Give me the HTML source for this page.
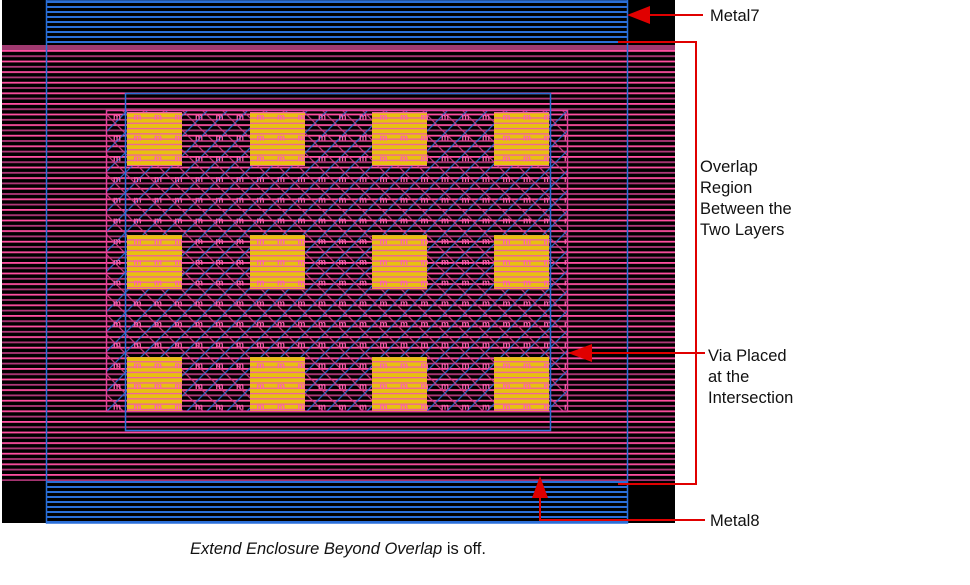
<!DOCTYPE html>
<html><head><style>
body{margin:0;background:#fff;width:970px;height:580px;overflow:hidden;font-family:"Liberation Sans",sans-serif;}
</style></head><body>
<svg width="970" height="580" xmlns="http://www.w3.org/2000/svg">
<defs>
<pattern id="blu" width="10" height="5" patternUnits="userSpaceOnUse" y="1">
<rect width="10" height="5" fill="#000"/><rect y="0" width="10" height="2" fill="#2a6fd8"/>
</pattern>
<pattern id="mag" width="10" height="10.6" patternUnits="userSpaceOnUse" y="50">
<rect width="10" height="10.6" fill="#000"/><rect y="0" width="10" height="1.8" fill="#ff4fa0"/><rect y="5.3" width="10" height="1.8" fill="#b03878"/>
</pattern>
<pattern id="hatch" width="20" height="20" patternUnits="userSpaceOnUse" x="125" y="113">
<path d="M0 20L20 0" stroke="#2a6fd8" stroke-width="1.3"/>
<path d="M0 0L20 20" stroke="#d03c88" stroke-width="1.3"/>
</pattern>
<pattern id="mm" width="20.5" height="20.7" patternUnits="userSpaceOnUse" x="113" y="113">
<text x="0" y="7" font-size="9" fill="#ff5fb0" font-family="Liberation Sans" font-weight="bold">m</text>
</pattern>
<pattern id="yel" width="10" height="5.3" patternUnits="userSpaceOnUse" y="112">
<rect width="10" height="5.3" fill="#e8c010"/><rect y="0" width="10" height="1.3" fill="#f060a0"/>
</pattern>
</defs>
<rect x="2" y="0" width="673" height="523" fill="#000"/>
<rect x="46" y="0" width="582" height="523" fill="url(#blu)"/>
<rect x="2" y="45" width="673" height="436" fill="url(#mag)"/>
<rect x="2" y="45" width="673" height="5" fill="#a03a70"/>
<rect x="46.5" y="0" width="581" height="523" fill="none" stroke="#2a6fd8" stroke-width="1.5"/>
<rect x="106" y="110" width="462" height="302" fill="url(#hatch)" opacity="0.9"/>
<g fill="url(#yel)">
<rect x="127" y="112" width="55" height="54"/><rect x="250" y="112" width="55" height="54"/><rect x="372" y="112" width="55" height="54"/><rect x="494" y="112" width="55" height="54"/>
<rect x="127" y="235" width="55" height="54"/><rect x="250" y="235" width="55" height="54"/><rect x="372" y="235" width="55" height="54"/><rect x="494" y="235" width="55" height="54"/>
<rect x="127" y="357" width="55" height="54"/><rect x="250" y="357" width="55" height="54"/><rect x="372" y="357" width="55" height="54"/><rect x="494" y="357" width="55" height="54"/>
</g>
<rect x="106" y="110" width="462" height="302" fill="url(#mm)"/>
<rect x="106.5" y="110.5" width="461" height="301" fill="none" stroke="#e0409a" stroke-width="1.5"/>
<rect x="125.5" y="93.5" width="425" height="337" fill="none" stroke="#2a6fd8" stroke-width="1.5"/>
<g stroke="#e00000" stroke-width="2" fill="none">
<path d="M645 15H703"/>
<path d="M618 42H696V484H618"/>
<path d="M588 353H705"/>
<path d="M540 495V520H705"/>
</g>
<g fill="#e00000">
<polygon points="627,15 650,6 650,24"/>
<polygon points="568,353 592,344 592,362"/>
<polygon points="540,476 532,498 548,498"/>
</g>
<g font-size="16.5" fill="#111">
<text x="710" y="21">Metal7</text>
<text x="700" y="172">Overlap</text>
<text x="700" y="193">Region</text>
<text x="700" y="214">Between the</text>
<text x="700" y="235">Two Layers</text>
<text x="708" y="361">Via Placed</text>
<text x="708" y="382">at the</text>
<text x="708" y="403">Intersection</text>
<text x="710" y="526">Metal8</text>
</g>
<text x="190" y="554" font-size="16.5" fill="#111"><tspan font-style="italic">Extend Enclosure Beyond Overlap</tspan> is off.</text>
</svg>
</body></html>
